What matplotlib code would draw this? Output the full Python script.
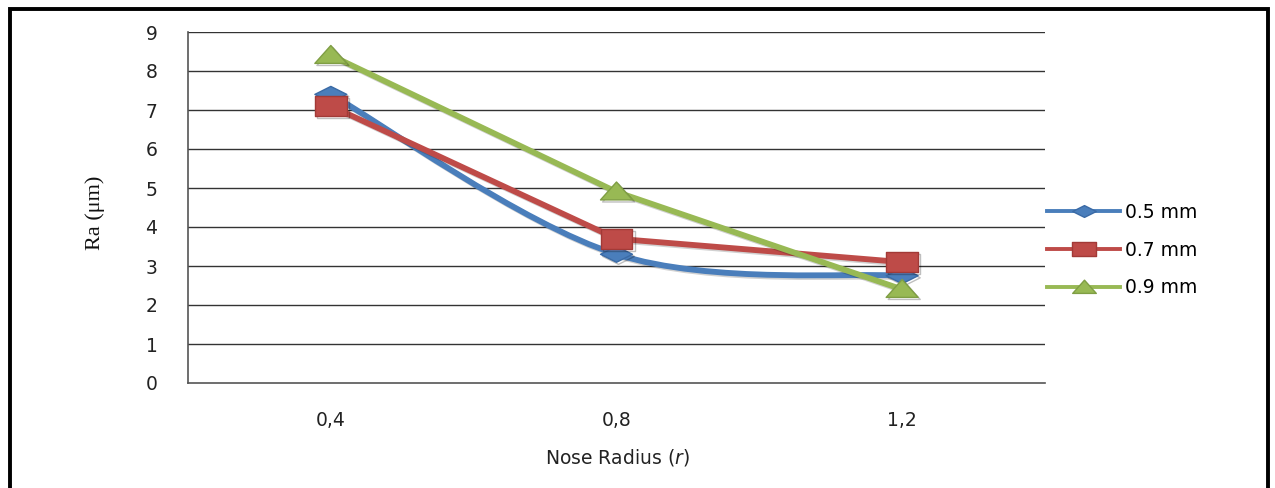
import numpy as np
import matplotlib
matplotlib.use("Agg")
import matplotlib.pyplot as plt
from matplotlib.path import Path
from matplotlib.patches import PathPatch, Rectangle
from matplotlib.lines import Line2D
import matplotlib.patheffects as pe

# ---- data -------------------------------------------------------------
categories = ["0,4", "0,8", "1,2"]
series_labels = ["0.5 mm", "0.7 mm", "0.9 mm"]
ra_05 = [7.4, 3.3, 2.75]
ra_07 = [7.1, 3.7, 3.1]
ra_09 = [8.4, 4.9, 2.4]
y_ticks = [0, 1, 2, 3, 4, 5, 6, 7, 8, 9]

colors = ["#4A7EBB", "#BE4B48", "#98B954"]
edge_colors = ["#3A6AA5", "#A23A37", "#7F9E44"]
smooth = [True, False, False]

# flattened marker shapes (wider than tall)
diamond = Path([(-1, 0), (0, 0.5), (1, 0), (0, -0.5), (-1, 0)],
               [Path.MOVETO, Path.LINETO, Path.LINETO, Path.LINETO, Path.CLOSEPOLY])
square = Path([(-1, -0.62), (1, -0.62), (1, 0.62), (-1, 0.62), (-1, -0.62)],
              [Path.MOVETO, Path.LINETO, Path.LINETO, Path.LINETO, Path.CLOSEPOLY])
triangle = Path([(-1, -0.5), (1, -0.5), (0, 0.62), (-1, -0.5)],
                [Path.MOVETO, Path.LINETO, Path.LINETO, Path.CLOSEPOLY])
markers = [diamond, square, triangle]
marker_sizes = [23, 23, 23]

FS = 13.5

fig = plt.figure(figsize=(12.75, 4.88), dpi=100)
ax = fig.add_axes([188 / 1275, 1 - 383 / 488, (1045 - 188) / 1275, (383 - 32) / 488])

x = np.arange(len(categories))
line_shadow = [pe.SimpleLineShadow(offset=(1.2, -1.2), alpha=0.18), pe.Normal()]


def smooth_path(xs, ys):
    """Cubic Bezier path through the points (Catmull-Rom style tangents)."""
    pts = np.column_stack([xs, ys]).astype(float)
    n = len(pts)
    verts = [tuple(pts[0])]
    codes = [Path.MOVETO]
    for i in range(n - 1):
        p0 = pts[i - 1] if i > 0 else pts[i]
        p1 = pts[i]
        p2 = pts[i + 1]
        p3 = pts[i + 2] if i + 2 < n else pts[i + 1]
        c1 = p1 + (p2 - p0) / 6.0
        c2 = p2 - (p3 - p1) / 6.0
        verts += [tuple(c1), tuple(c2), tuple(p2)]
        codes += [Path.CURVE4] * 3
    return Path(verts, codes)


handles = []
for vals, lab, col, ecol, mk, ms, sm in zip([ra_05, ra_07, ra_09], series_labels,
                                            colors, edge_colors, markers,
                                            marker_sizes, smooth):
    if sm:
        patch = PathPatch(smooth_path(x, vals), facecolor="none", edgecolor=col,
                          lw=4.2, capstyle="round", joinstyle="round", zorder=3)
        patch.set_path_effects(line_shadow)
        ax.add_patch(patch)
    else:
        ln, = ax.plot(x, vals, color=col, lw=4.2, solid_capstyle="round",
                      solid_joinstyle="round", zorder=3)
        ln.set_path_effects(line_shadow)
    mk_line, = ax.plot(x, vals, linestyle="none", marker=mk, markersize=ms,
                       markerfacecolor=col, markeredgecolor=ecol,
                       markeredgewidth=1.0, zorder=4)
    mk_line.set_path_effects([pe.SimpleLineShadow(offset=(1.5, -1.5), alpha=0.25),
                              pe.Normal()])
    handles.append(Line2D([], [], color=col, lw=2.8, marker=mk, markersize=17,
                          markerfacecolor=col, markeredgecolor=ecol, label=lab))

ax.set_xlim(-0.5, len(categories) - 0.5)
ax.set_ylim(0, 9)
ax.set_yticks(y_ticks)
ax.set_yticklabels([str(t) for t in y_ticks])
ax.set_xticks(x)
ax.set_xticklabels(categories)
ax.tick_params(axis="both", length=0, labelsize=FS, colors="#222222")
ax.tick_params(axis="y", pad=22)
ax.tick_params(axis="x", pad=20)

for t in y_ticks[1:]:
    ax.axhline(t, color="#333333", lw=1.0, zorder=1)
for side in ["top", "right"]:
    ax.spines[side].set_visible(False)
for side in ["left", "bottom"]:
    ax.spines[side].set_color("#555555")
    ax.spines[side].set_linewidth(1.2)

fig.text(95 / 1275, 1 - 213 / 488, "Ra (μm)", rotation=90, ha="center", va="center",
         fontsize=16, family="Liberation Serif", color="#111111")
fig.text(617 / 1275, 1 - 458 / 488, "Nose Radius ($r$)", ha="center", va="center",
         fontsize=FS, color="#222222")

fig.legend(handles=handles, loc="center left",
           bbox_to_anchor=(1047 / 1275, 1 - 250 / 488), frameon=False,
           fontsize=FS, handlelength=3.9, handletextpad=0.25, labelspacing=1.0,
           borderaxespad=0, borderpad=0)

# outer frame of the figure (bottom edge lies outside the canvas)
fig.patches.append(Rectangle((10 / 1275, -0.05), (1268 - 10) / 1275, 1.05 - 9 / 488,
                             transform=fig.transFigure, fill=False,
                             edgecolor="black", lw=2.8, clip_on=False))

fig.savefig("out.png", dpi=100)
